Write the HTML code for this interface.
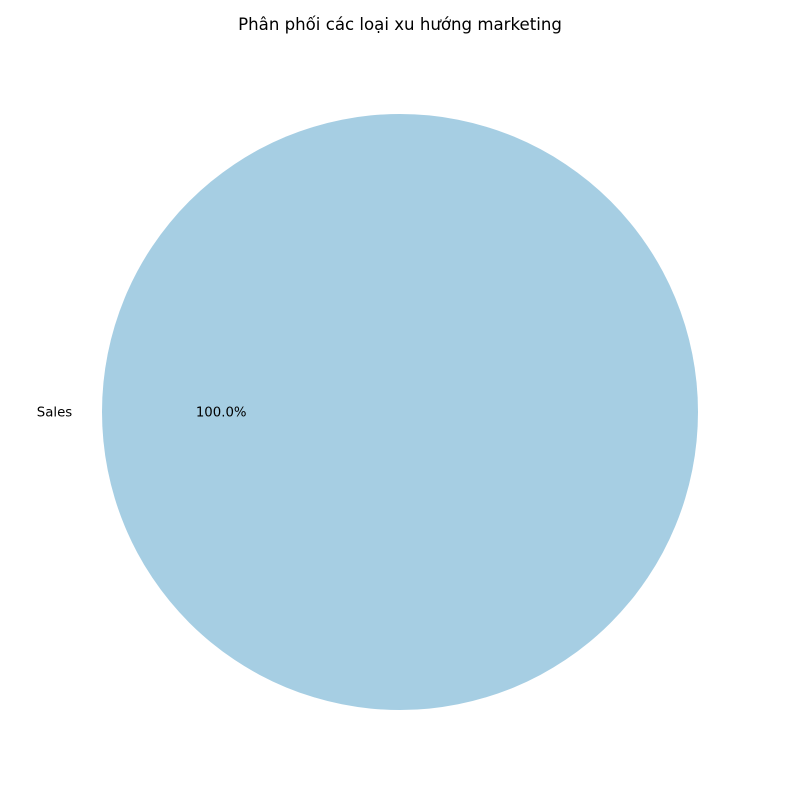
<!DOCTYPE html>
<html>
<head>
<meta charset="utf-8">
<style>
html,body{margin:0;padding:0;background:#fff;}
svg text{font-family:"DejaVu Sans","Liberation Sans",sans-serif;}
</style>
</head>
<body>
<svg width="800" height="800" viewBox="0 0 800 800" xmlns="http://www.w3.org/2000/svg">
<rect width="800" height="800" fill="#fff"/>
<text x="400" y="30" text-anchor="middle" font-size="16.6" fill="#000">Phân phối các loại xu hướng marketing</text>
<g id="pie"></g>
</svg>
<script>
const categories = ["Sales"];
const values = [1];
const colors = ["#a6cee3","#1f78b4","#b2df8a","#33a02c"];
const cx = 400, cy = 412, r = 298;
const g = document.getElementById('pie');
const ns = "http://www.w3.org/2000/svg";
const total = values.reduce((a,b)=>a+b,0);
let angle = 0;
values.forEach((v,i)=>{
  const frac = v/total;
  const sweep = frac*2*Math.PI;
  let el;
  if (frac >= 0.9999) {
    el = document.createElementNS(ns,'circle');
    el.setAttribute('cx',cx); el.setAttribute('cy',cy); el.setAttribute('r',r);
  } else {
    el = document.createElementNS(ns,'path');
    const a0 = angle, a1 = angle+sweep;
    const x0 = cx + r*Math.cos(a0), y0 = cy - r*Math.sin(a0);
    const x1 = cx + r*Math.cos(a1), y1 = cy - r*Math.sin(a1);
    el.setAttribute('d',`M${cx},${cy} L${x0},${y0} A${r},${r} 0 ${sweep>Math.PI?1:0} 0 ${x1},${y1} Z`);
  }
  el.setAttribute('fill',colors[i%colors.length]);
  
  
  g.appendChild(el);
  const mid = angle + sweep/2;
  const lx = cx + 1.1*r*Math.cos(mid), ly = cy - 1.1*r*Math.sin(mid);
  const lab = document.createElementNS(ns,'text');
  lab.setAttribute('x',lx); lab.setAttribute('y',ly+4.5);
  lab.setAttribute('font-size','13.3');
  lab.setAttribute('text-anchor', Math.cos(mid)<0 ? 'end' : 'start');
  lab.textContent = categories[i];
  
  
  g.appendChild(lab);
  const px = cx + 0.6*r*Math.cos(mid), py = cy - 0.6*r*Math.sin(mid);
  const pct = document.createElementNS(ns,'text');
  pct.setAttribute('x',px); pct.setAttribute('y',py+4.5);
  pct.setAttribute('font-size','13.3');
  pct.setAttribute('text-anchor','middle');
  pct.textContent = (frac*100).toFixed(1)+'%';
  
  
  g.appendChild(pct);
  angle += sweep;
});
</script>
</body>
</html>
